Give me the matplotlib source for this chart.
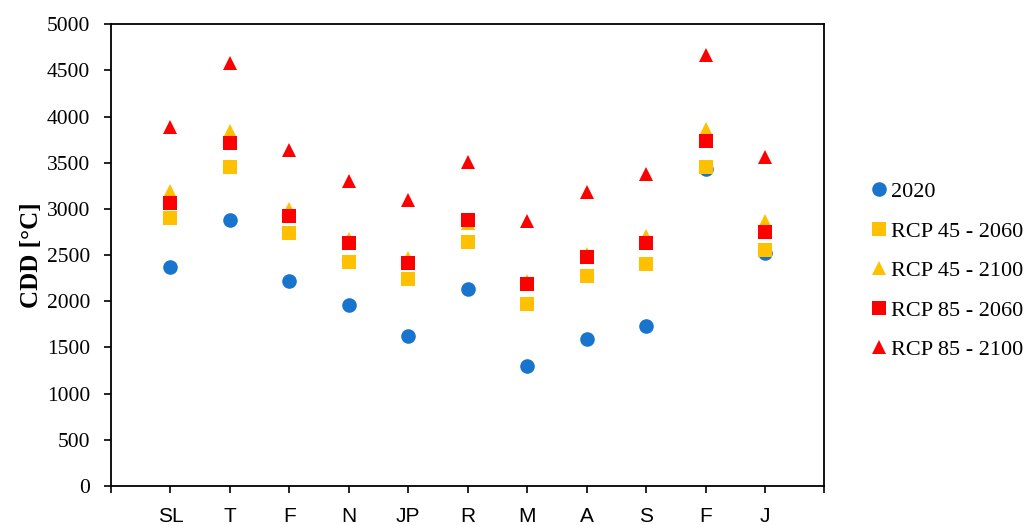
import matplotlib
matplotlib.use("Agg")
import matplotlib.pyplot as plt
import numpy as np

categories = ["SL", "T", "F", "N", "JP", "R", "M", "A", "S", "F", "J"]
s2020 = [2370, 2880, 2220, 1955, 1625, 2130, 1295, 1590, 1730, 3430, 2525]
rcp45_2060 = [2905, 3450, 2735, 2430, 2240, 2640, 1975, 2275, 2400, 3450, 2560]
rcp45_2100 = [3190, 3845, 3000, 2670, 2465, 2850, 2220, 2515, 2710, 3870, 2865]
rcp85_2060 = [3065, 3710, 2920, 2630, 2410, 2880, 2190, 2480, 2635, 3735, 2750]
rcp85_2100 = [3885, 4580, 3635, 3305, 3095, 3510, 2875, 3185, 3375, 4670, 3560]
labels = ["2020", "RCP 45 - 2060", "RCP 45 - 2100", "RCP 85 - 2060", "RCP 85 - 2100"]

serif = ["Liberation Serif", "DejaVu Serif"]
sans = ["Liberation Sans", "DejaVu Sans"]

fig = plt.figure(figsize=(10.28, 5.25), dpi=100)
ax = fig.add_axes([0.108, 0.0743, 0.694, 0.8794])

x = np.arange(1, len(categories) + 1)
series = [
    (s2020, "o", "#1874CD"),
    (rcp45_2060, "s", "#FFC000"),
    (rcp45_2100, "^", "#FFC000"),
    (rcp85_2060, "s", "#FF0000"),
    (rcp85_2100, "^", "#FF0000"),
]
for (vals, m, c), lab in zip(series, labels):
    ax.plot(x, vals, linestyle="none", marker=m, color=c, markersize=10.5,
            markeredgewidth=0, label=lab)

ax.set_xlim(0, len(categories) + 1)
ax.set_ylim(0, 5000)
ax.set_yticks(np.arange(0, 5001, 500))
ax.set_xticks(np.arange(0, len(categories) + 2))
ax.set_xticklabels([""] + categories + [""], fontfamily=sans, fontsize=15)
for t in ax.get_yticklabels():
    t.set_fontfamily(serif)
    t.set_fontsize(15.5)
ax.tick_params(axis="both", direction="out", length=5, width=1.2, color="black")
ax.tick_params(axis="x", pad=10)
ax.tick_params(axis="y", pad=10)
for sp in ax.spines.values():
    sp.set_linewidth(1.3)
    sp.set_color("black")

ax.set_ylabel("CDD [°C]", fontfamily=serif, fontsize=18, fontweight="bold", labelpad=3)

leg = fig.legend(loc="upper left", bbox_to_anchor=(0.847, 0.654), frameon=False,
                 prop={"family": serif, "size": 16}, handlelength=0.75,
                 handletextpad=0.15, labelspacing=0.85, borderpad=0, borderaxespad=0)

fig.savefig("out.png", dpi=100)
